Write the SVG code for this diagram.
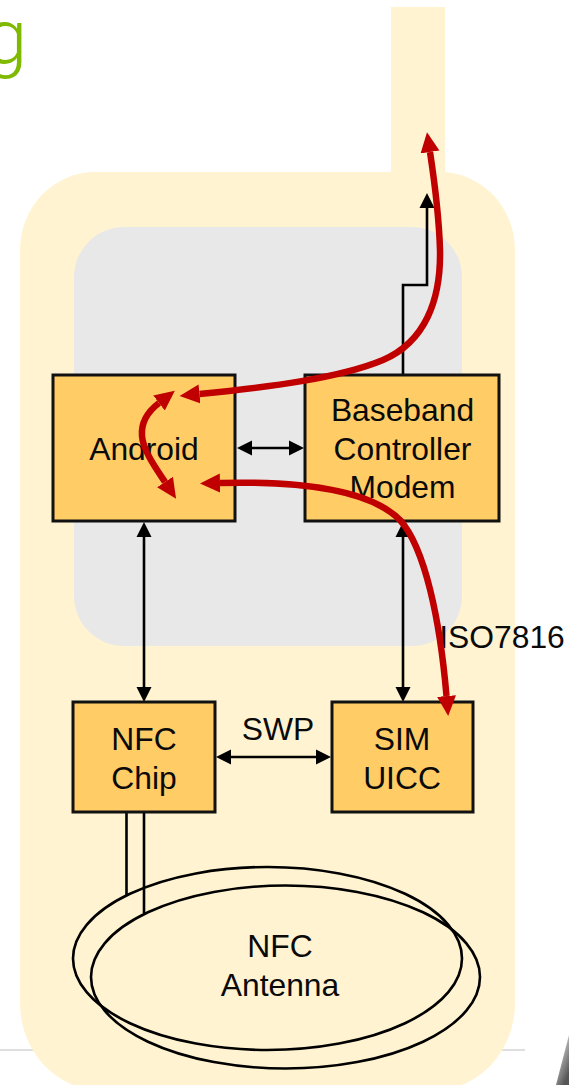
<svg xmlns="http://www.w3.org/2000/svg" width="569" height="1085" viewBox="0 0 569 1085">
<style>
text{font-family:"Liberation Sans",Arial,sans-serif;font-size:31.800px;fill:#0a0a0a;text-anchor:middle}
.box{fill:#ffcc66;stroke:#111;stroke-width:3}
.ln{fill:none;stroke:#000;stroke-width:2.600}
.red{fill:none;stroke:#c00000;stroke-width:6.500}
.ant{fill:none;stroke:#000;stroke-width:2.600}
</style>
<defs>
<marker id="ah" markerUnits="userSpaceOnUse" markerWidth="16" markerHeight="16" refX="0" refY="8" orient="auto-start-reverse"><path d="M0 0.500L15 8L0 15.500Z" fill="#000"/></marker>
<marker id="rh" markerUnits="userSpaceOnUse" markerWidth="21" markerHeight="20" refX="0" refY="10" orient="auto-start-reverse"><path d="M0 0.500L20 10L0 19.500Z" fill="#c00000"/></marker>
<linearGradient id="sh" x1="0" y1="0" x2="0.6" y2="1"><stop offset="0" stop-color="#fff"/><stop offset="1" stop-color="#555"/></linearGradient>
</defs>
<g id="background">
<path d="M0 1050H525" stroke="#d4d4d4" stroke-width="1.500" fill="none"/>
<text x="-15" y="63" style="font-size:76px;fill:#7fba00;text-anchor:start;font-family:Roboto,sans-serif;font-weight:300">g</text>
<path d="M391 7H445V172H440A75 78 0 0 1 515 250V1003A80 87 0 0 1 435 1090H100A80 87 0 0 1 20 1003V250A75 78 0 0 1 95 172H391Z" fill="#fff3d1"/>
<rect x="74" y="227" width="388" height="419" rx="50" ry="50" fill="#e8e8e8"/>
<path d="M569 1035L556 1085H569Z" fill="url(#sh)"/>
</g>
<g id="connectors">
<path class="ln" d="M403 375V285H427V208" marker-end="url(#ah)"/>
<path class="ln" d="M252 448H289" marker-start="url(#ah)" marker-end="url(#ah)"/>
<path class="ln" d="M144 537V687" marker-start="url(#ah)" marker-end="url(#ah)"/>
<path class="ln" d="M403 537V687" marker-start="url(#ah)" marker-end="url(#ah)"/>
<path class="ln" d="M231 757H316" marker-start="url(#ah)" marker-end="url(#ah)"/>
<path class="ln" d="M126.500 812V895"/>
<path class="ln" d="M144 812V913"/>
</g>
<g id="android"><rect class="box" x="53" y="375" width="182" height="146"/><text x="144" y="460">Android</text></g>
<g id="baseband"><rect class="box" x="305" y="375" width="194" height="146"/><text x="402.500" y="421">Baseband</text><text x="402.500" y="460">Controller</text><text x="402.500" y="498">Modem</text></g>
<g id="nfc-chip"><rect class="box" x="73" y="702" width="142" height="110"/><text x="144" y="750">NFC</text><text x="144" y="789">Chip</text></g>
<g id="sim"><rect class="box" x="332" y="702" width="141" height="110"/><text x="402" y="750">SIM</text><text x="402" y="789">UICC</text></g>
<g id="antenna"><ellipse class="ant" cx="267.500" cy="958.500" rx="194.500" ry="91.500"/><ellipse class="ant" cx="285.500" cy="977" rx="194.500" ry="91.500"/><text x="280" y="957">NFC</text><text x="280" y="996">Antenna</text></g>
<g id="labels"><text x="278" y="740">SWP</text><text x="502" y="648">ISO7816</text></g>
<g id="flows">
<path class="red" d="M199.500 394C270 387 340 378 383 360C425 342 441 300 440 250C439 215 435 185 430 152" marker-start="url(#rh)" marker-end="url(#rh)"/>
<path class="red" d="M159 403C146 413 141 425 142 436C143 450 155 467 165 482" marker-start="url(#rh)" marker-end="url(#rh)"/>
<path class="red" d="M220 483C300 481 370 490 400 520C425 548 440 620 446.500 696" marker-start="url(#rh)" marker-end="url(#rh)"/>
</g>
</svg>
